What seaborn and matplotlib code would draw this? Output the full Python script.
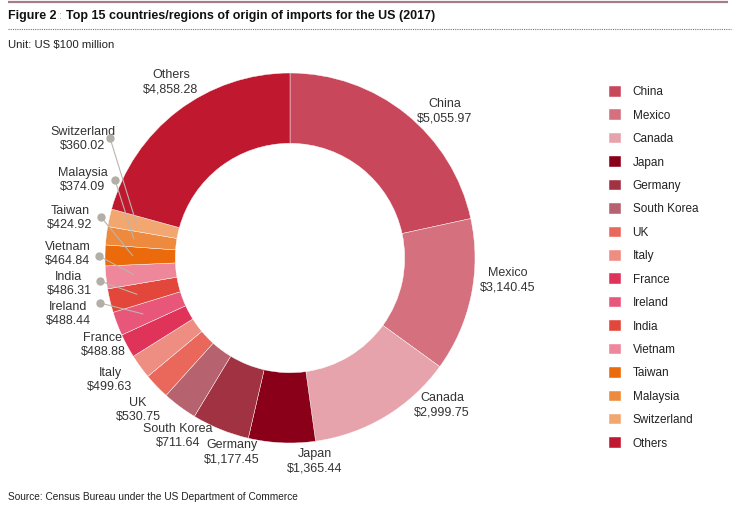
import numpy as np
import seaborn as sns
import matplotlib.pyplot as plt
from matplotlib import font_manager

# Data (US $100 million)
countries = ["China", "Mexico", "Canada", "Japan", "Germany", "South Korea",
             "UK", "Italy", "France", "Ireland", "India", "Vietnam",
             "Taiwan", "Malaysia", "Switzerland", "Others"]
values = [5055.97, 3140.45, 2999.75, 1365.44, 1177.45, 711.64,
          530.75, 499.63, 488.88, 488.44, 486.31, 464.84,
          424.92, 374.09, 360.02, 4858.28]

# styles
colors = ["#C9475B", "#D5707E", "#E6A3AC", "#8A0018", "#A13242", "#B6626F",
          "#E9675B", "#EE8D82", "#DF335A", "#E8577A", "#E3463A", "#EE8799",
          "#EA6A0C", "#EE8A3D", "#F2A771", "#C0182E"]

# layout, pixel coords from top-left
W, H = 744, 520
CENTER = (290, 258)
RADIUS = 185
label_pos = {
    "China": (445, 111), "Mexico": (508, 280), "Canada": (442, 405),
    "Japan": (315, 461), "Germany": (232, 452), "South Korea": (178, 436),
    "UK": (138, 410), "Italy": (110, 380), "France": (103, 345),
    "Ireland": (68, 314), "India": (69, 284), "Vietnam": (68, 254),
    "Taiwan": (70, 218), "Malaysia": (83, 180), "Switzerland": (83, 139),
    "Others": (171, 82),
}
dot_pos = {
    "Ireland": (100, 303), "India": (100, 281), "Vietnam": (99, 256),
    "Taiwan": (101, 217), "Malaysia": (115, 180), "Switzerland": (110, 138),
}

sns.set_theme(style="white")
narrow = "Liberation Sans Narrow"
have_narrow = any(f.name == narrow for f in font_manager.fontManager.ttflist)
plt.rcParams["font.family"] = ["Liberation Sans", "DejaVu Sans"]


def py(y):
    return H - y


fig = plt.figure(figsize=(W / 100, H / 100), dpi=100)
ax = fig.add_axes([0, 0, 1, 1])

wedges, _ = ax.pie(
    values,
    colors=colors,
    startangle=90,
    counterclock=False,
    radius=RADIUS,
    center=(CENTER[0], py(CENTER[1])),
    wedgeprops=dict(width=RADIUS * 0.38, edgecolor="white", linewidth=0.3),
)
ax.set_xlim(0, W)
ax.set_ylim(0, H)
ax.set_aspect("equal")
ax.axis("off")

text_color = "#333333"
for name, val, w in zip(countries, values, wedges):
    x, y = label_pos[name]
    ax.text(x, py(y), f"{name}\n${val:,.2f}", ha="center", va="center",
            fontsize=9, color=text_color, linespacing=1.25)
    if name in dot_pos:
        dx, dy = dot_pos[name]
        mid = np.deg2rad((w.theta1 + w.theta2) / 2)
        ex = CENTER[0] + 0.85 * RADIUS * np.cos(mid)
        ey = py(CENTER[1]) + 0.85 * RADIUS * np.sin(mid)
        ax.plot([dx, ex], [py(dy), ey], color="#BAB5AD", lw=0.8, zorder=3)
        ax.plot(dx, py(dy), "o", color="#B3AEA6", ms=5, zorder=3)

# legend
fig.legend(
    wedges, countries,
    loc="upper left",
    bbox_to_anchor=(609 / W, 1 - 86 / H),
    frameon=False,
    fontsize=8.5,
    handlelength=1.0,
    handleheight=1.0,
    handletextpad=1.0,
    labelspacing=0.94,
    borderpad=0,
    borderaxespad=0,
    labelcolor="#222222",
)

# header
ax.plot([8, 728], [py(2), py(2)], color="#A67C8C", lw=1.6, solid_capstyle="butt")
ax.plot([8, 731], [py(29), py(29)], color="#9C6474", lw=0.8, ls=(0, (1, 1)))

title_font = dict(fontsize=9, fontweight="bold", color="#111111", va="center")
if have_narrow:
    title_font["family"] = [narrow, "DejaVu Sans"]
    title_font["fontsize"] = 10
t1 = ax.text(8, py(16), "Figure 2", **title_font)
fig.canvas.draw()
r = fig.canvas.get_renderer()
x1 = t1.get_window_extent(r).x1
t2 = ax.text(x1 + 3, py(16), ":", fontsize=8, color="#999999", va="center")
x2 = t2.get_window_extent(r).x1
ax.text(x2 + 3, py(16), "Top 15 countries/regions of origin of imports for the US (2017)",
        **title_font)

ax.text(8, py(45), "Unit: US $100 million", fontsize=8.2, color="#222222", va="center")
ax.text(8, py(497), "Source: Census Bureau under the US Department of Commerce",
        fontsize=7.3, color="#222222", va="center")

fig.savefig("out.png", dpi=100)
